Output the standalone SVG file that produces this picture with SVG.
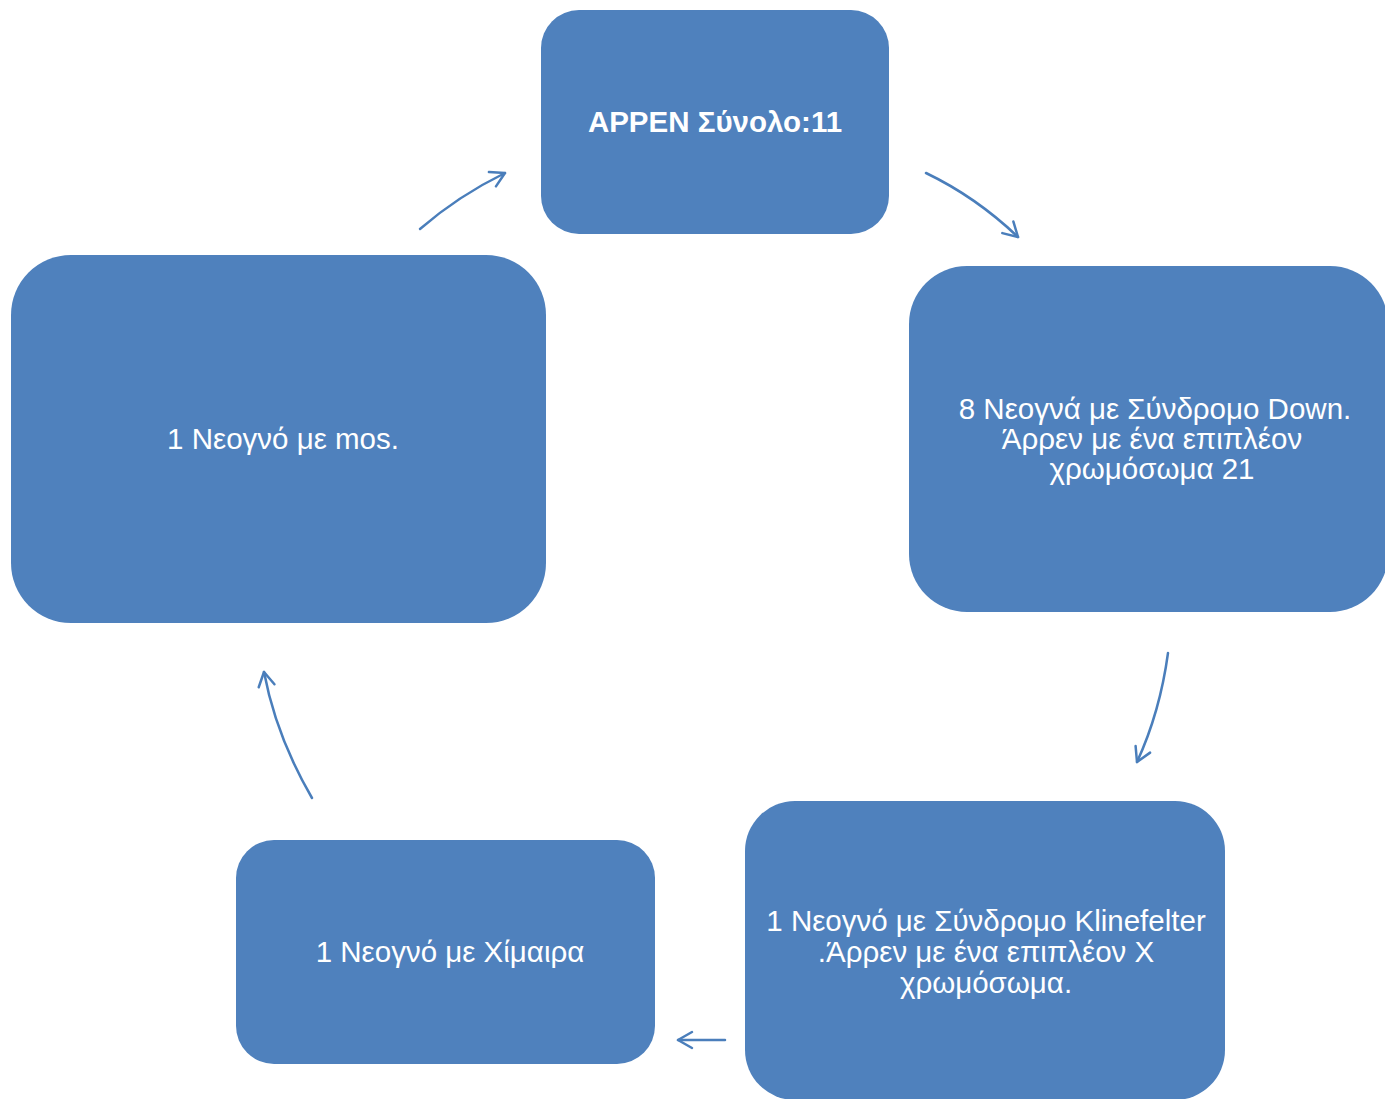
<svg xmlns="http://www.w3.org/2000/svg" width="1385" height="1099" viewBox="0 0 1385 1099">
<style>
.box{fill:#4F81BD;}
.t{font-family:"Liberation Sans",Arial,sans-serif;font-size:29.5px;fill:#FFFFFF;text-anchor:middle;}
.b{font-weight:bold;font-size:29.5px;}
.c{fill:none;stroke:#4A7EBB;stroke-width:2.5;stroke-linecap:round;}
</style>
<defs>
<marker id="ah" viewBox="0 0 20 20" refX="18" refY="10" markerWidth="20" markerHeight="20" markerUnits="userSpaceOnUse" orient="auto">
<path d="M4,2 L18,10 L4,18" fill="none" stroke="#4A7EBB" stroke-width="2.5" stroke-linecap="round" stroke-linejoin="round"/>
</marker>
</defs>
<rect width="1385" height="1099" fill="#FFFFFF"/>
<g id="node-top">
<rect class="box" x="541" y="10" width="348" height="224" rx="38"/>
<text class="t b" x="715" y="132">APPEN Σύνολο:11</text>
</g>
<g id="node-right">
<rect class="box" x="909" y="266" width="479" height="346" rx="58"/>
<text class="t" x="1155" y="419">8 Νεογνά με Σύνδρομο Down.</text>
<text class="t" x="1152" y="449">Άρρεν με ένα επιπλέον</text>
<text class="t" x="1152" y="479">χρωμόσωμα 21</text>
</g>
<g id="node-bottom-right">
<rect class="box" x="745" y="801" width="480" height="299" rx="50"/>
<text class="t" x="986" y="931">1 Νεογνό με Σύνδρομο Klinefelter</text>
<text class="t" x="986" y="962">.Άρρεν με ένα επιπλέον Χ</text>
<text class="t" x="986" y="993">χρωμόσωμα.</text>
</g>
<g id="node-bottom-left">
<rect class="box" x="236" y="840" width="419" height="224" rx="38"/>
<text class="t" x="450" y="962">1 Νεογνό με Χίμαιρα</text>
</g>
<g id="node-left">
<rect class="box" x="11" y="255" width="535" height="368" rx="60"/>
<text class="t" x="283" y="449">1 Νεογνό με mos.</text>
</g>
<g id="connectors">
<path class="c" d="M420,229 Q458,196 505,173" marker-end="url(#ah)"/>
<path class="c" d="M926,173 Q976,197 1018,237" marker-end="url(#ah)"/>
<path class="c" d="M1168,653 Q1160,712 1137,762" marker-end="url(#ah)"/>
<path class="c" d="M725,1040 L678,1040" marker-end="url(#ah)"/>
<path class="c" d="M312,798 Q276,736 264,672" marker-end="url(#ah)"/>
</g>
</svg>
